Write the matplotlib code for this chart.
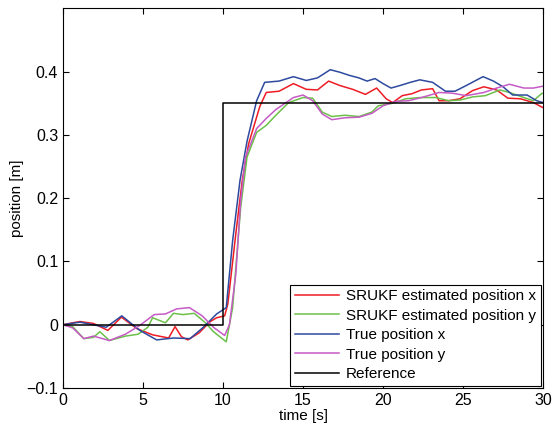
import matplotlib.pyplot as plt
import numpy as np

plt.rcParams['font.family'] = ['Liberation Sans', 'DejaVu Sans']

# SRUKF estimated position x
t_ex = [0, 0.6, 1.06, 1.9, 2.8, 3.65, 4.6, 5.6, 6.6, 7.0, 7.4, 7.8, 8.5, 9.2, 9.6, 10.1, 10.3,
        10.8, 11.2, 11.6, 12.3, 12.7, 13.5, 14.4, 15.2, 15.9, 16.6, 17.3, 18.1, 18.9, 19.6,
        20.2, 20.6, 21.2, 21.8, 22.4, 23.1, 23.5, 24.1, 24.8, 25.6, 26.3, 27.1, 27.8, 28.6,
        29.4, 30.0]
v_ex = [0, 0.003, 0.005, 0.002, -0.009, 0.012, -0.006, -0.016, -0.021, -0.003, -0.019, -0.024,
        -0.013, 0.005, 0.011, 0.014, 0.033, 0.144, 0.228, 0.286, 0.345, 0.367, 0.369, 0.381,
        0.372, 0.371, 0.385, 0.378, 0.372, 0.364, 0.374, 0.357, 0.351, 0.362, 0.365, 0.371,
        0.373, 0.354, 0.354, 0.357, 0.370, 0.376, 0.371, 0.358, 0.357, 0.351, 0.343]

# SRUKF estimated position y
t_ey = [0, 0.6, 1.3, 1.9, 2.3, 2.9, 3.9, 4.7, 5.3, 5.6, 6.4, 6.9, 7.5, 8.2, 8.9, 9.4, 10.2,
        10.6, 11.1, 11.5, 12.1, 12.7, 13.3, 14.1, 15.0, 15.6, 16.2, 16.8, 17.6, 18.5, 19.3,
        19.7, 20.6, 21.4, 22.3, 23.3, 24.1, 24.8, 25.6, 26.4, 27.3, 27.9, 28.8, 29.4, 29.9, 30.0]
v_ey = [0, -0.003, -0.022, -0.020, -0.011, -0.025, -0.018, -0.015, -0.004, 0.011, 0.003, 0.018,
        0.016, 0.018, 0.003, -0.011, -0.027, 0.027, 0.185, 0.265, 0.304, 0.315, 0.331, 0.351,
        0.359, 0.358, 0.336, 0.329, 0.331, 0.329, 0.336, 0.346, 0.350, 0.357, 0.359, 0.359,
        0.354, 0.355, 0.360, 0.362, 0.371, 0.367, 0.359, 0.354, 0.365, 0.366]

# True position x
t_tx = [0, 1.06, 2.7, 3.67, 4.8, 5.85, 6.9, 7.94, 8.77, 9.6, 10.2, 10.6, 11.06, 11.5, 12.1,
        12.6, 13.5, 14.4, 15.2, 15.9, 16.7, 17.3, 17.9, 18.5, 19.0, 19.5, 20.0, 20.5, 21.06,
        21.7, 22.3, 23.1, 23.9, 24.5, 25.2, 26.25, 26.9, 27.5, 28.1, 29.0, 29.6, 30.0]
v_tx = [0, 0.004, -0.004, 0.014, -0.009, -0.024, -0.021, -0.022, -0.004, 0.017, 0.027, 0.133,
        0.228, 0.290, 0.354, 0.383, 0.385, 0.392, 0.386, 0.390, 0.403, 0.399, 0.394, 0.390,
        0.385, 0.389, 0.381, 0.374, 0.378, 0.383, 0.387, 0.383, 0.369, 0.369, 0.378, 0.392,
        0.385, 0.376, 0.363, 0.363, 0.354, 0.351]

# True position y
t_ty = [0, 0.6, 1.3, 1.9, 2.9, 3.9, 4.8, 5.7, 6.4, 7.1, 7.9, 8.7, 9.4, 10.1, 10.4, 10.8,
        11.1, 11.4, 12.1, 12.7, 13.3, 14.4, 15.0, 15.6, 16.2, 16.8, 17.6, 18.5, 19.3, 20.0,
        20.8, 21.6, 22.4, 23.5, 24.3, 25.2, 26.3, 27.1, 27.9, 28.8, 29.4, 30.0]
v_ty = [0, -0.005, -0.022, -0.018, -0.025, -0.015, -0.001, 0.016, 0.017, 0.025, 0.027, 0.014,
        -0.004, -0.017, 0.0, 0.080, 0.196, 0.265, 0.310, 0.326, 0.340, 0.359, 0.363, 0.354,
        0.333, 0.324, 0.327, 0.328, 0.334, 0.346, 0.353, 0.354, 0.359, 0.367, 0.366, 0.362,
        0.367, 0.374, 0.380, 0.374, 0.374, 0.377]

# Reference step
t_ref = [0, 10, 10, 30]
v_ref = [0, 0, 0.35, 0.35]

fig = plt.figure(figsize=(5.53, 4.29), dpi=100)
ax = fig.add_axes([0.114, 0.0956, 0.868, 0.885])

ax.plot(t_ex, v_ex, color='#ee1c25', lw=1.1, label='SRUKF estimated position x')
ax.plot(t_ey, v_ey, color='#6cc04a', lw=1.1, label='SRUKF estimated position y')
ax.plot(t_tx, v_tx, color='#2e4a9e', lw=1.1, label='True position x')
ax.plot(t_ty, v_ty, color='#c55bc5', lw=1.1, label='True position y')
ax.plot(t_ref, v_ref, color='black', lw=1.1, label='Reference')

ax.set_xlim(0, 30)
ax.set_ylim(-0.1, 0.5)
ax.set_xticks([0, 5, 10, 15, 20, 25, 30])
ax.set_yticks([-0.1, 0, 0.1, 0.2, 0.3, 0.4])
ax.set_yticklabels(['\u22120.1', '0', '0.1', '0.2', '0.3', '0.4'])
ax.tick_params(direction='in', top=True, right=True, labelsize=11.5, length=4)
ax.set_xlabel('time [s]', fontsize=11, labelpad=1)
ax.set_ylabel('position [m]', fontsize=11, labelpad=2)

leg = ax.legend(loc='lower right', fontsize=11, fancybox=False, framealpha=1,
                edgecolor='black', borderpad=0.3, labelspacing=0.36,
                handlelength=2.9, handletextpad=0.45, borderaxespad=0.15)
leg.get_frame().set_linewidth(0.8)

fig.savefig('out.png', dpi=100)
